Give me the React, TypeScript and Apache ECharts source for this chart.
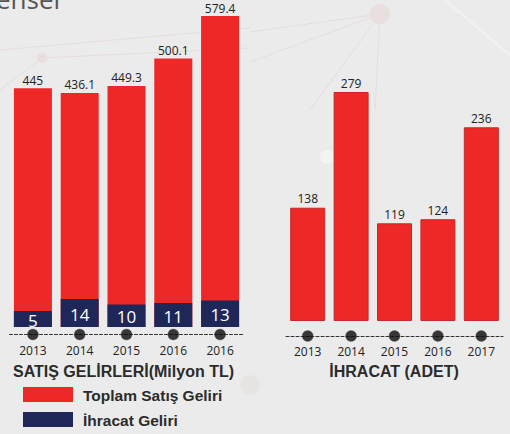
import React, { useEffect, useRef } from "react";
import * as echarts from "echarts";

const salesYears = ["2013", "2014", "2015", "2016", "2016"];
const totalSales = [445, 436.1, 449.3, 500.1, 579.4];
const exportSales = [5, 14, 10, 11, 13];
const exportYears = ["2013", "2014", "2015", "2016", "2017"];
const exportUnits = [138, 279, 119, 124, 236];

const RED = "#ee2727";
const NAVY = "#1f2759";
const TXT = "#222222";
const FONT = "'Open Sans', 'Noto Sans', sans-serif";
const BOLD = "'Liberation Sans', Arial, sans-serif";
const EXPORT_AXIS_MIN = -7;

export default function App() {
  const ref = useRef<HTMLDivElement>(null);
  useEffect(() => {
    document.body.style.margin = "0";
    const chart = echarts.init(ref.current!, null, { renderer: "svg" });
    const faint = "#e7dcdd";
    const option: any = {
      animation: false,
      backgroundColor: "#ebebeb",
      grid: [
        { left: 9.5, width: 234, top: 5, height: 322 },
        { left: 286, width: 217, top: 5, height: 316 },
      ],
      xAxis: [
        {
          type: "category",
          gridIndex: 0,
          data: salesYears,
          offset: 7.5,
          axisLine: { show: true, onZero: false, lineStyle: { color: "#333", type: [3, 2], width: 1 } },
          axisTick: { show: false },
          axisLabel: { color: TXT, fontSize: 12, fontFamily: FONT, margin: 10 },
        },
        {
          type: "category",
          gridIndex: 1,
          data: exportYears,
          offset: 15,
          axisLine: { show: true, onZero: false, lineStyle: { color: "#333", type: [3, 2], width: 1 } },
          axisTick: { show: false },
          axisLabel: { color: TXT, fontSize: 12, fontFamily: FONT, margin: 9 },
        },
      ],
      yAxis: [
        { type: "value", gridIndex: 0, min: 0, max: 600, show: false },
        { type: "value", gridIndex: 0, min: EXPORT_AXIS_MIN, max: 235, show: false },
        { type: "value", gridIndex: 1, min: 0, max: 385, show: false },
      ],
      series: [
        {
          type: "bar",
          xAxisIndex: 0,
          yAxisIndex: 0,
          data: totalSales,
          barWidth: 38,
          itemStyle: { color: RED },
          label: { show: true, position: "top", color: TXT, fontSize: 12, lineHeight: 12, fontFamily: FONT, distance: 2 },
        },
        {
          type: "custom",
          xAxisIndex: 0,
          yAxisIndex: 1,
          data: exportSales.map((v, i) => [i, v]),
          encode: { x: 0, y: 1 },
          z: 3,
          renderItem: (params: any, api: any) => {
            const i = api.value(0);
            const v = api.value(1);
            const top = api.coord([i, v]);
            const base = api.coord([i, EXPORT_AXIS_MIN]);
            const w = 38;
            return {
              type: "group",
              children: [
                {
                  type: "rect",
                  shape: { x: top[0] - w / 2, y: top[1], width: w, height: base[1] - top[1] },
                  style: { fill: NAVY },
                },
                {
                  type: "text",
                  x: top[0],
                  y: (top[1] + base[1]) / 2 + 1,
                  style: {
                    text: String(v),
                    fill: "#fff",
                    font: "17px " + FONT,
                    textAlign: "center",
                    textVerticalAlign: "middle",
                  },
                },
              ],
            };
          },
        },
        {
          type: "scatter",
          xAxisIndex: 0,
          yAxisIndex: 0,
          data: salesYears.map(() => 0),
          symbolSize: 11,
          symbolOffset: [0, 7.5],
          clip: false,
          z: 5,
          itemStyle: { color: "#0a0a0a", borderColor: "#666", borderWidth: 0.5 },
        },
        {
          type: "bar",
          xAxisIndex: 1,
          yAxisIndex: 2,
          data: exportUnits,
          barWidth: 35,
          itemStyle: { color: RED, borderColor: "#c52a2a", borderWidth: 1 },
          label: { show: true, position: "top", color: TXT, fontSize: 12, lineHeight: 12, fontFamily: FONT, distance: 3 },
        },
        {
          type: "scatter",
          xAxisIndex: 1,
          yAxisIndex: 2,
          data: exportYears.map(() => 0),
          symbolSize: 11,
          symbolOffset: [0, 15],
          clip: false,
          z: 5,
          itemStyle: { color: "#0a0a0a", borderColor: "#666", borderWidth: 0.5 },
        },
      ],
      graphic: [
        // faint network background
        { type: "line", z: -10, shape: { x1: 380, y1: 14, x2: 250, y2: 32 }, style: { stroke: faint, lineWidth: 1 } },
        { type: "line", z: -10, shape: { x1: 380, y1: 14, x2: 250, y2: 62 }, style: { stroke: faint, lineWidth: 1 } },
        { type: "line", z: -10, shape: { x1: 380, y1: 14, x2: 310, y2: 110 }, style: { stroke: faint, lineWidth: 1 } },
        { type: "line", z: -10, shape: { x1: 380, y1: 14, x2: 375, y2: 110 }, style: { stroke: faint, lineWidth: 1 } },
        { type: "line", z: -10, shape: { x1: 0, y1: 50, x2: 250, y2: 28 }, style: { stroke: faint, lineWidth: 1 } },
        { type: "line", z: -10, shape: { x1: 42, y1: 58, x2: 0, y2: 90 }, style: { stroke: faint, lineWidth: 1 } },
        { type: "line", z: -10, shape: { x1: 42, y1: 58, x2: 250, y2: 48 }, style: { stroke: faint, lineWidth: 1 } },
        { type: "line", z: -10, shape: { x1: 445, y1: 0, x2: 510, y2: 55 }, style: { stroke: "#f2f2f2", lineWidth: 2 } },
        { type: "circle", z: -10, shape: { cx: 380, cy: 14, r: 10 }, style: { fill: "#e9dfdf" } },
        { type: "circle", z: -10, shape: { cx: 42, cy: 58, r: 5 }, style: { fill: "#e9dddd" } },
        { type: "circle", z: -10, shape: { cx: 327, cy: 157, r: 7 }, style: { fill: "#f3f3f3" } },
        { type: "circle", z: -10, shape: { cx: 250, cy: 385, r: 10 }, style: { fill: "#e8e4e4" } },
        // cut-off heading
        {
          type: "text",
          left: -4,
          top: -14,
          style: { text: "enser", fill: "#555", font: "normal 26px " + FONT },
        },
        // chart titles
        {
          type: "text",
          x: 123.5,
          y: 371,
          style: {
            text: "SATIŞ GELİRLERİ(Milyon TL)",
            fill: "#2b2b2b",
            font: "bold 16px " + BOLD,
            textAlign: "center",
            textVerticalAlign: "middle",
          },
        },
        {
          type: "text",
          x: 394,
          y: 371,
          style: {
            text: "İHRACAT (ADET)",
            fill: "#2b2b2b",
            font: "bold 16px " + BOLD,
            textAlign: "center",
            textVerticalAlign: "middle",
          },
        },
        // legend
        { type: "rect", shape: { x: 23, y: 387, width: 50, height: 15 }, style: { fill: RED } },
        {
          type: "text",
          x: 83,
          y: 395,
          style: { text: "Toplam Satış Geliri", fill: "#2b2b2b", font: "bold 15.5px " + BOLD, textVerticalAlign: "middle" },
        },
        { type: "rect", shape: { x: 23, y: 412, width: 50, height: 15 }, style: { fill: NAVY } },
        {
          type: "text",
          x: 83,
          y: 420,
          style: { text: "İhracat Geliri", fill: "#2b2b2b", font: "bold 15.5px " + BOLD, textVerticalAlign: "middle" },
        },
      ],
    };
    chart.setOption(option);
    return () => chart.dispose();
  }, []);
  return (
    <div
      ref={ref}
      style={{ position: "absolute", left: 0, top: 0, width: 510, height: 434 }}
    />
  );
}
